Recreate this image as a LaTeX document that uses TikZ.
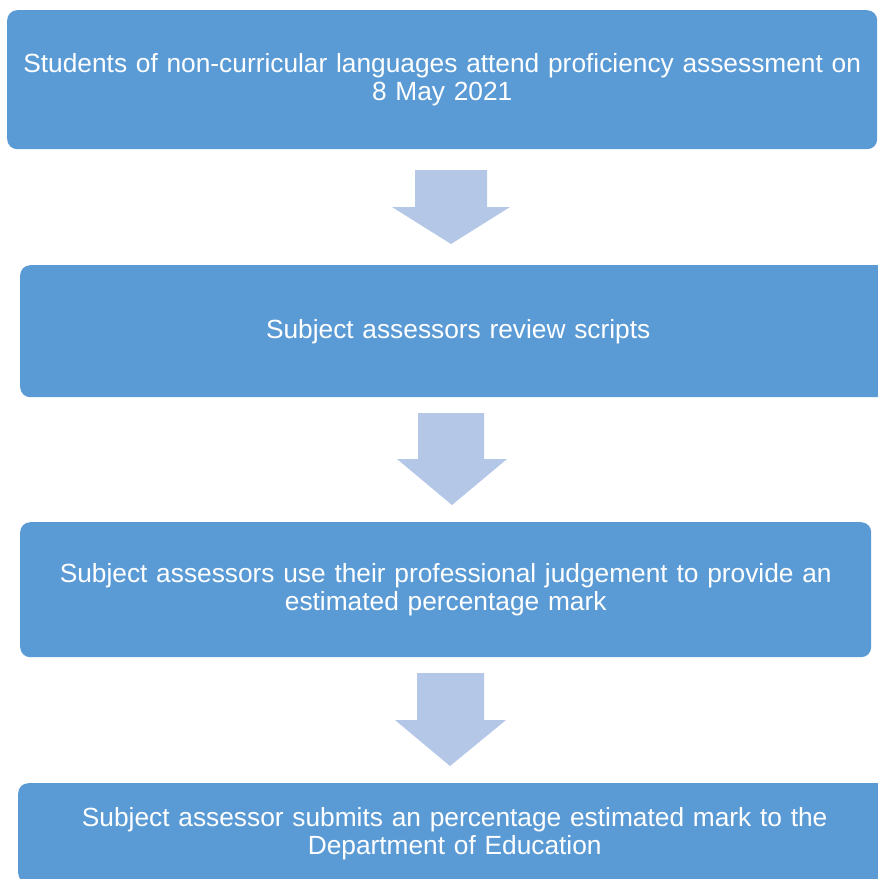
\documentclass[tikz,border=0pt]{standalone}
\usepackage{fontspec}
\setmainfont{Liberation Sans}
\definecolor{boxblue}{HTML}{5B9BD5}
\definecolor{arrowblue}{HTML}{B4C7E7}
\begin{document}
\begin{tikzpicture}[x=1pt,y=-1pt,
  stepbox/.style={fill=boxblue,draw=none,rounded corners=10pt,anchor=north west,
    inner sep=0pt,align=center,text=white,font=\fontsize{26.3}{28}\selectfont},
  blockarrow/.style={fill=arrowblue,draw=none}]
\useasboundingbox (0,0) rectangle (878,879);
\clip (0,0) rectangle (878,879);
\node[stepbox,minimum width=870pt,minimum height=139pt,text width=866pt] (b1) at (7,10)
  {Students of non-curricular languages attend proficiency assessment on\\8 May 2021};
\node[stepbox,minimum width=876pt,minimum height=132pt,text width=860pt] (b2) at (20,265)
  {Subject assessors review scripts};
\node[stepbox,minimum width=851pt,minimum height=135pt,text width=845pt] (b3) at (20,522)
  {Subject assessors use their professional judgement to provide an\\estimated percentage mark};
\node[stepbox,minimum width=873pt,minimum height=100pt,text width=860pt] (b4) at (18,783)
  {Subject assessor submits an percentage estimated mark to the\\Department of Education};
\fill[blockarrow] (415,170) -- (487,170) -- (487,207) -- (510,207) -- (451,244) -- (392,207) -- (415,207) -- cycle;
\fill[blockarrow] (418,413) -- (484,413) -- (484,459) -- (507,459) -- (452,505) -- (397,459) -- (418,459) -- cycle;
\fill[blockarrow] (417,673) -- (484,673) -- (484,720) -- (506,720) -- (450,766) -- (395,720) -- (417,720) -- cycle;
\end{tikzpicture}
\end{document}
